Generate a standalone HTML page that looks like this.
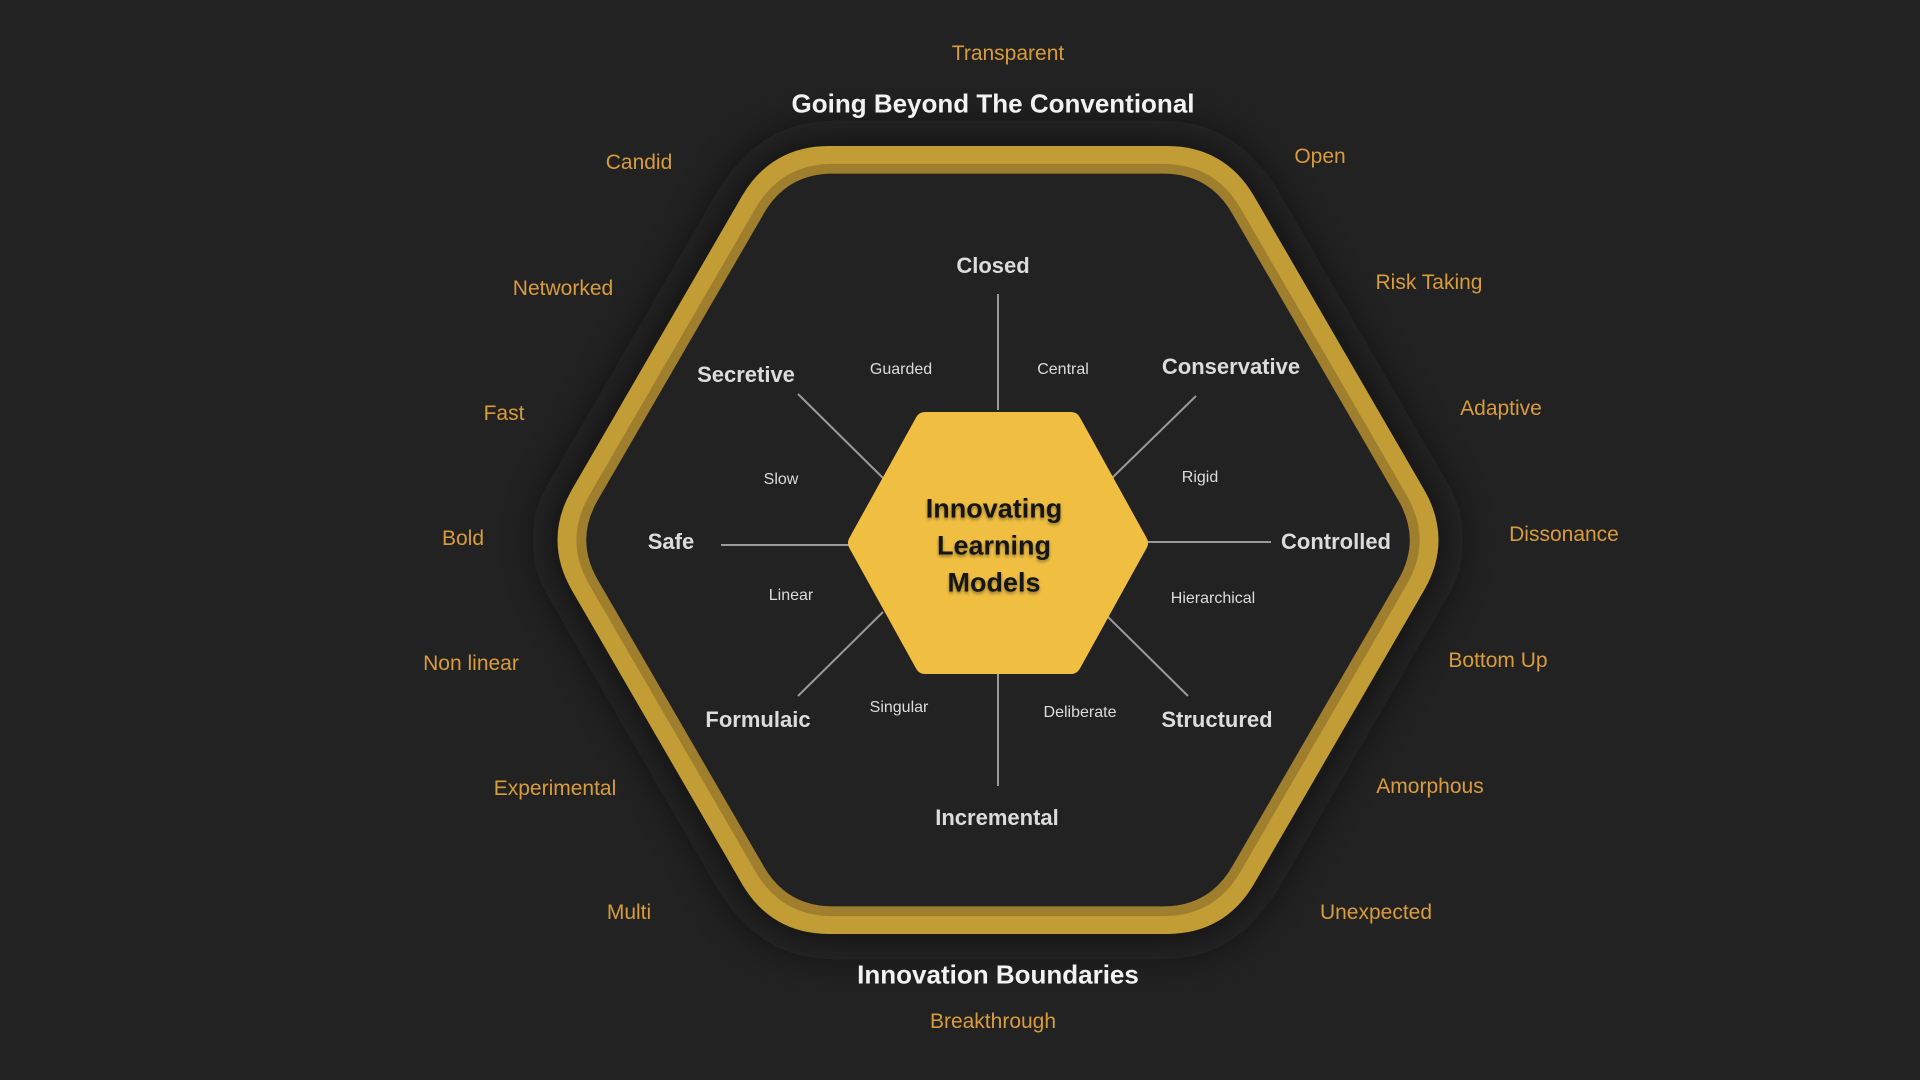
<!DOCTYPE html>
<html><head><meta charset="utf-8"><style>
html,body{margin:0;padding:0;background:#222;}
#c{position:relative;width:1920px;height:1080px;overflow:hidden;background:#222;font-family:"Liberation Sans",sans-serif;}
.t{position:absolute;transform:translate(-50%,-50%);white-space:nowrap;}
.o{color:#d99c3c;font-size:21px;}
.b{color:#dcdcdc;font-size:22px;font-weight:bold;}
.s{color:#dcdcdc;font-size:16px;}
.h{color:#f2f2f2;font-size:26px;font-weight:bold;}
</style></head><body><div id="c">
<svg width="1920" height="1080" style="position:absolute;left:0;top:0">
<defs>
<filter id="sh" x="-20%" y="-20%" width="140%" height="140%"><feGaussianBlur stdDeviation="22"/></filter>
<path id="hx" d="M584,496.7 L754,203.3 Q779,160 829,160 L1167,160 Q1217,160 1242,203.3 L1412,496.7 Q1437,540 1412,583.3 L1242,876.7 Q1217,920 1167,920 L829,920 Q779,920 754,876.7 L584,583.3 Q559,540 584,496.7 Z"/>
</defs>
<use href="#hx" fill="none" stroke="#121212" stroke-width="50" filter="url(#sh)" opacity="0.9"/>
<use href="#hx" fill="#222" stroke="#c29c35" stroke-width="28" stroke-linejoin="round"/>
<use href="#hx" fill="#222" stroke="#9f7f2d" stroke-width="10" transform="translate(998,540) scale(0.977) translate(-998,-540)"/>
<g stroke="#9a9a9a" stroke-width="2">
<line x1="998" y1="294" x2="998" y2="410"/>
<line x1="998" y1="674" x2="998" y2="786"/>
<line x1="721" y1="545" x2="851" y2="545"/>
<line x1="1145" y1="542" x2="1271" y2="542"/>
<line x1="798" y1="394" x2="883" y2="478"/>
<line x1="1196" y1="396" x2="1112" y2="478"/>
<line x1="798" y1="696" x2="883" y2="612"/>
<line x1="1188" y1="696" x2="1107" y2="616"/>
</g>
<polygon points="858,543 925,422 1071,422 1138,543 1071,664 925,664" fill="#f0bf42" stroke="#f0bf42" stroke-width="20" stroke-linejoin="round"/>
</svg>
<div class="t" style="left:994px;top:546px;text-align:center;color:#151515;font-weight:bold;font-size:27px;line-height:37px;text-shadow:0 2px 3px rgba(0,0,0,0.4)">Innovating<br>Learning<br>Models</div>

<div class="t b" style="left:993px;top:266px">Closed</div>
<div class="t b" style="left:746px;top:375px">Secretive</div>
<div class="t b" style="left:1231px;top:367px">Conservative</div>
<div class="t b" style="left:671px;top:542px">Safe</div>
<div class="t b" style="left:1336px;top:542px">Controlled</div>
<div class="t b" style="left:758px;top:720px">Formulaic</div>
<div class="t b" style="left:1217px;top:720px">Structured</div>
<div class="t b" style="left:997px;top:818px">Incremental</div>

<div class="t s" style="left:901px;top:370px">Guarded</div>
<div class="t s" style="left:1063px;top:370px">Central</div>
<div class="t s" style="left:781px;top:480px">Slow</div>
<div class="t s" style="left:1200px;top:478px">Rigid</div>
<div class="t s" style="left:791px;top:596px">Linear</div>
<div class="t s" style="left:1213px;top:599px">Hierarchical</div>
<div class="t s" style="left:899px;top:708px">Singular</div>
<div class="t s" style="left:1080px;top:713px">Deliberate</div>

<div class="t o" style="left:1008px;top:54px">Transparent</div>
<div class="t o" style="left:639px;top:163px">Candid</div>
<div class="t o" style="left:1320px;top:157px">Open</div>
<div class="t o" style="left:563px;top:289px">Networked</div>
<div class="t o" style="left:1429px;top:283px">Risk Taking</div>
<div class="t o" style="left:504px;top:414px">Fast</div>
<div class="t o" style="left:1501px;top:409px">Adaptive</div>
<div class="t o" style="left:463px;top:539px">Bold</div>
<div class="t o" style="left:1564px;top:535px">Dissonance</div>
<div class="t o" style="left:471px;top:664px">Non linear</div>
<div class="t o" style="left:1498px;top:661px">Bottom Up</div>
<div class="t o" style="left:555px;top:789px">Experimental</div>
<div class="t o" style="left:1430px;top:787px">Amorphous</div>
<div class="t o" style="left:629px;top:913px">Multi</div>
<div class="t o" style="left:1376px;top:913px">Unexpected</div>
<div class="t o" style="left:993px;top:1022px">Breakthrough</div>

<div class="t h" style="left:993px;top:104px">Going Beyond The Conventional</div>
<div class="t h" style="left:998px;top:975px">Innovation Boundaries</div>
</div></body></html>
